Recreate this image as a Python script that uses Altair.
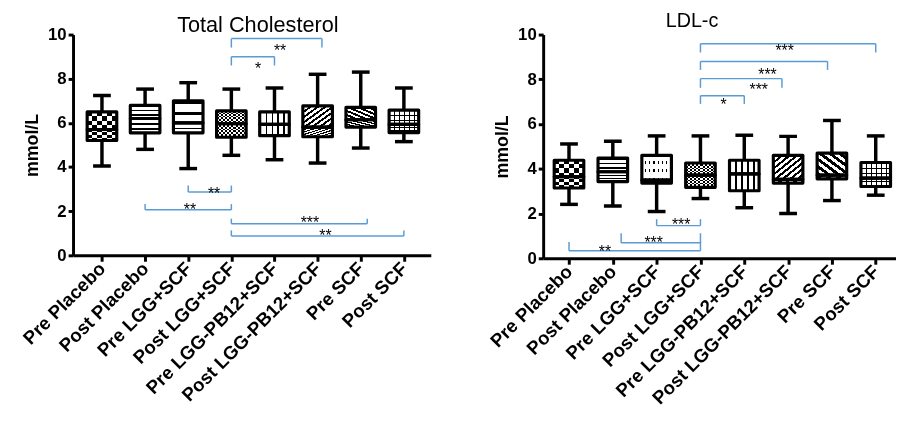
import json
import altair as alt
import pandas as pd

# ---------------- data ----------------
GROUPS = ["Pre Placebo", "Post Placebo", "Pre LGG+SCF", "Post LGG+SCF",
          "Pre LGG-PB12+SCF", "Post LGG-PB12+SCF", "Pre SCF", "Post SCF"]
POS = [1, 2, 3, 4, 5, 6, 7, 8]

# Total Cholesterol (mmol/L): whisker low, Q1, median, Q3, whisker high
TC_LO = [4.05, 4.80, 3.93, 4.53, 4.33, 4.18, 4.86, 5.15]
TC_Q1 = [5.20, 5.55, 5.55, 5.35, 5.42, 5.37, 5.81, 5.56]
TC_MED = [5.70, 6.20, 6.00, 5.96, 5.93, 5.81, 6.14, 5.93]
TC_Q3 = [6.50, 6.80, 7.00, 6.54, 6.50, 6.77, 6.70, 6.58]
TC_HI = [7.24, 7.53, 7.82, 7.53, 7.58, 8.20, 8.30, 7.58]

# LDL-c (mmol/L)
LDL_LO = [2.41, 2.34, 2.09, 2.67, 2.26, 2.00, 2.58, 2.82]
LDL_Q1 = [3.14, 3.43, 3.36, 3.17, 3.02, 3.36, 3.55, 3.21]
LDL_MED = [3.65, 3.87, 3.50, 3.72, 3.77, 3.53, 3.72, 3.58]
LDL_Q3 = [4.38, 4.48, 4.60, 4.26, 4.38, 4.60, 4.70, 4.28]
LDL_HI = [5.11, 5.23, 5.47, 5.47, 5.50, 5.45, 6.16, 5.47]

# significance brackets (group positions, bracket line level, end level, label)
TC_BR_X1 = [4, 4, 3, 2, 4, 4]
TC_BR_X2 = [6.1, 5, 4, 4, 7.15, 8]
TC_BR_LINE = [9.82, 9.00, 2.87, 2.06, 1.43, 0.88]
TC_BR_END = [9.41, 8.60, 3.16, 2.32, 1.66, 1.13]
TC_BR_LABEL = ["**", "*", "**", "**", "***", "**"]
TC_BR_LX = [5.13, 4.62, 3.60, 3.04, 5.82, 6.18]
TC_BR_LY = [9.49, 8.68, 3.01, 2.28, 1.69, 1.10]

LDL_BR_X1 = [4, 4, 4, 4, 3, 2.19, 1]
LDL_BR_X2 = [8, 6.9, 5.86, 5, 4, 4, 4]
LDL_BR_LINE = [9.59, 8.80, 8.03, 7.27, 1.46, 0.69, 0.34]
LDL_BR_END = [9.20, 8.42, 7.62, 6.90, 1.75, 1.12, 0.73]
LDL_BR_LABEL = ["***", "***", "***", "*", "***", "***", "**"]
LDL_BR_LX = [5.92, 5.53, 5.33, 4.53, 3.56, 2.93, 1.82]
LDL_BR_LY = [9.50, 8.42, 7.74, 7.08, 1.71, 0.92, 0.51]

TC_PATTERNS = ["checker", "hstripes", "hstripes_wide", "checker_fine",
               "vstripes", "diag1", "diag2", "grid"]
LDL_PATTERNS = ["checker", "hstripes", "dots", "checker_fine",
                "vstripes", "diag1", "diag2", "grid"]

# ---------------- style ----------------
FONT = "Liberation Sans"
CLEAR = "rgba(255,255,255,0)"
BLUE = "#5B9BD5"
BOXW = 30


def stripes(direction, n, frac, dark="black", light="white"):
    x1, y1, x2, y2 = {"h": (0, 0, 0, 1), "v": (0, 0, 1, 0),
                      "d1": (0, 0, 1, 1), "d2": (0, 1, 1, 0)}[direction]
    stops = []
    for k in range(n):
        a, b, c = k / n, (k + frac) / n, (k + 1) / n
        stops += [alt.GradientStop(offset=a, color=dark),
                  alt.GradientStop(offset=b, color=dark),
                  alt.GradientStop(offset=b, color=light),
                  alt.GradientStop(offset=c, color=light)]
    return alt.LinearGradient(gradient="linear", stops=stops,
                              x1=x1, y1=y1, x2=x2, y2=y2)


PATTERN_DEFS = {
    "checker": [("white", None), (stripes("v", 3, 0.5), None),
                (stripes("h", 2, 0.5), "difference")],
    "checker_fine": [("white", None), (stripes("v", 7, 0.5), None),
                     (stripes("h", 4, 0.5), "difference")],
    "hstripes": [("white", None), (stripes("h", 3, 0.35, "black", CLEAR), None)],
    "hstripes_wide": [("white", None), (stripes("h", 2, 0.3, "black", CLEAR), None)],
    "dots": [("black", None), (stripes("h", 3, 0.72, "white", CLEAR), None),
             (stripes("v", 7, 0.72, "white", CLEAR), None)],
    "vstripes": [("white", None), (stripes("v", 5, 0.25, "black", CLEAR), None)],
    "diag1": [("white", None), (stripes("d1", 8, 0.45, "black", CLEAR), None)],
    "diag2": [("white", None), (stripes("d2", 6, 0.5, "black", CLEAR), None)],
    "grid": [("white", None), (stripes("h", 3, 0.25, "black", CLEAR), None),
             (stripes("v", 6, 0.2, "black", CLEAR), None)],
}


def panel(title, lo, q1, med, q3, hi, pats, br, xdom, width, height,
          title_dx, title_offset, title_size):
    boxes = pd.DataFrame({"pos": POS, "lo": lo, "q1": q1, "med": med,
                          "q3": q3, "hi": hi})
    halves = pd.DataFrame({
        "pos": POS + POS,
        "y0": list(q1) + list(med),
        "y1": list(med) + list(q3),
    })
    brk = pd.DataFrame({"x1": br[0], "x2": br[1], "line": br[2], "end": br[3],
                        "label": br[4], "lx": br[5], "ly": br[6]})

    xaxis = alt.Axis(values=POS, labelExpr=f"{json.dumps(GROUPS)}[datum.value - 1]",
                     labelAngle=315, labelAlign="right", labelBaseline="middle",
                     labelPadding=4, labelOverlap=False, labelBound=False,
                     labelLimit=0, title=None, labelFontSize=19,
                     labelFontWeight="bold", labelFont=FONT, labelColor="black",
                     tickSize=6, tickWidth=3, tickColor="black",
                     domainWidth=3, domainColor="black", grid=False)
    yaxis = alt.Axis(values=[0, 2, 4, 6, 8, 10], title="mmol/L",
                     titleFont=FONT, titleFontSize=18, titleFontWeight="bold",
                     titleColor="black", titlePadding=6,
                     labelFontSize=17, labelFontWeight="bold", labelFont=FONT,
                     labelColor="black", labelPadding=2,
                     tickSize=5, tickWidth=3, tickColor="black",
                     domainWidth=3, domainColor="black", grid=False)
    xs = alt.Scale(domain=xdom, nice=False, zero=False)
    ys = alt.Scale(domain=[0, 10], nice=False)

    def X(f):
        return alt.X(f"{f}:Q", scale=xs, axis=xaxis)

    def Y(f):
        return alt.Y(f"{f}:Q", scale=ys, axis=yaxis)

    layers = []
    for i, p in enumerate(pats):
        for fill, blend in PATTERN_DEFS[p]:
            kw = {"blend": blend} if blend else {}
            layers.append(
                alt.Chart(halves).transform_filter(alt.datum.pos == POS[i])
                .mark_bar(size=BOXW, fill=fill, **kw)
                .encode(x=X("pos"), y=Y("y0"), y2="y1"))
    layers.append(alt.Chart(halves).mark_bar(size=BOXW, fill="white", fillOpacity=0,
                                             stroke="black", strokeWidth=3.2,
                                             strokeJoin="round")
                  .encode(x=X("pos"), y=Y("y0"), y2="y1"))
    layers.append(alt.Chart(boxes).mark_rule(color="black", strokeWidth=3.5)
                  .encode(x=X("pos"), y=Y("lo"), y2="q1"))
    layers.append(alt.Chart(boxes).mark_rule(color="black", strokeWidth=3.5)
                  .encode(x=X("pos"), y=Y("q3"), y2="hi"))
    layers.append(alt.Chart(boxes).mark_tick(orient="horizontal", size=18,
                                             thickness=3.5, color="black", opacity=1)
                  .encode(x=X("pos"), y=Y("hi")))
    layers.append(alt.Chart(boxes).mark_tick(orient="horizontal", size=18,
                                             thickness=3.5, color="black", opacity=1)
                  .encode(x=X("pos"), y=Y("lo")))
    # brackets
    layers.append(alt.Chart(brk).mark_rule(color=BLUE, strokeWidth=1.5)
                  .encode(x=X("x1"), x2="x2", y=Y("line")))
    layers.append(alt.Chart(brk).mark_rule(color=BLUE, strokeWidth=1.5)
                  .encode(x=X("x1"), y=Y("line"), y2="end"))
    layers.append(alt.Chart(brk).mark_rule(color=BLUE, strokeWidth=1.5)
                  .encode(x=X("x2"), y=Y("line"), y2="end"))
    layers.append(alt.Chart(brk).mark_text(font=FONT, fontSize=16, color="black",
                                           baseline="middle", align="center", dy=5)
                  .encode(x=X("lx"), y=Y("ly"), text="label:N"))

    return alt.layer(*layers).properties(
        width=width, height=height,
        title=alt.TitleParams(text=title, font=FONT, fontSize=title_size,
                              fontWeight="normal", color="black",
                              anchor="middle", frame="group",
                              dx=title_dx, offset=title_offset))


left = panel("Total Cholesterol", TC_LO, TC_Q1, TC_MED, TC_Q3, TC_HI, TC_PATTERNS,
             (TC_BR_X1, TC_BR_X2, TC_BR_LINE, TC_BR_END, TC_BR_LABEL, TC_BR_LX, TC_BR_LY),
             [0.444, 8.51], 363, 224, 6, -11, 22)
right = panel("LDL-c", LDL_LO, LDL_Q1, LDL_MED, LDL_Q3, LDL_HI, LDL_PATTERNS,
              (LDL_BR_X1, LDL_BR_X2, LDL_BR_LINE, LDL_BR_END, LDL_BR_LABEL, LDL_BR_LX, LDL_BR_LY),
              [0.523, 8.35], 358, 227, -28, -5, 20)

chart = alt.hconcat(left, right, spacing=56).properties(
    padding={"left": 12, "top": 0, "right": 0, "bottom": 0},
    background="white",
).configure_view(stroke=None)

chart.save("out.html", embed_options={"renderer": "svg", "actions": False})
